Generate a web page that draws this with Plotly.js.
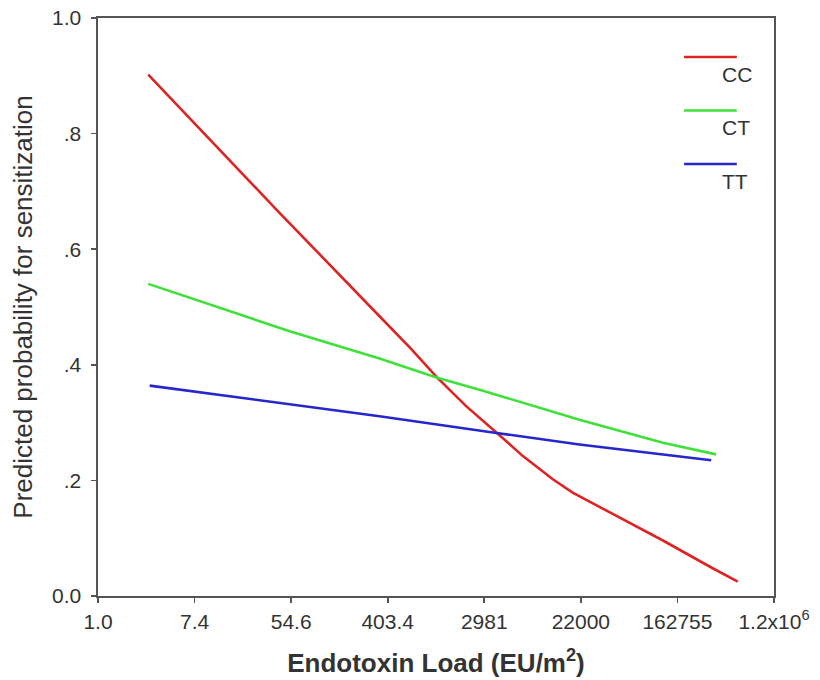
<!DOCTYPE html>
<html>
<head>
<meta charset="utf-8">
<script src="https://cdn.plot.ly/plotly-3.0.1.min.js"></script>
<style>html,body{margin:0;padding:0;background:#fff;}#chart{width:820px;height:680px;}</style>
</head>
<body>
<div id="chart"></div>
<script>
// x values are ln(Endotoxin load, EU/m2)
const ccLnLoad = [1.04, 3.69, 5.83, 6.49, 7.01, 7.63, 8.25, 8.80, 9.42, 9.83, 10.66, 11.70, 12.73, 13.25];
const ccProb   = [0.902, 0.669, 0.484, 0.427, 0.379, 0.328, 0.283, 0.242, 0.202, 0.179, 0.142, 0.096, 0.048, 0.025];
const ctLnLoad = [1.04, 3.97, 5.83, 6.83, 7.01, 7.90, 9.97, 11.70, 12.80];
const ctProb   = [0.540, 0.458, 0.411, 0.383, 0.378, 0.357, 0.305, 0.265, 0.245];
const ttLnLoad = [1.07, 5.83, 8.18, 9.97, 12.70];
const ttProb   = [0.364, 0.311, 0.283, 0.262, 0.235];
const seriesNames = ['CC', 'CT', 'TT'];
const seriesColors = ['#dd2424', '#3fe03a', '#2626cc'];
const xTickVals = [0, 2, 4, 6, 8, 10, 12, 14];
const xTickText = ['1.0', '7.4', '54.6', '403.4', '2981', '22000', '162755', '1.2x10<sup>6</sup>'];
const yTickVals = [0, 0.2, 0.4, 0.6, 0.8, 1.0];
const yTickText = ['0.0', '.2', '.4', '.6', '.8', '1.0'];

const xs = [ccLnLoad, ctLnLoad, ttLnLoad];
const ys = [ccProb, ctProb, ttProb];
const traces = seriesNames.map((n, i) => ({
  x: xs[i], y: ys[i], name: n, type: 'scatter', mode: 'lines',
  line: {color: seriesColors[i], width: 2.6}
}));

const font = 'Liberation Sans, Arial, sans-serif';
const shapes = [], annotations = [];
seriesNames.forEach((n, i) => {
  const yl = 0.9325 - i * 0.0925;
  shapes.push({type: 'line', xref: 'paper', yref: 'paper', x0: 0.867, x1: 0.945, y0: yl, y1: yl,
    line: {color: seriesColors[i], width: 2.6}});
  annotations.push({xref: 'paper', yref: 'paper', x: 0.92, y: yl - 0.03, text: n, showarrow: false,
    xanchor: 'left', yanchor: 'middle', font: {family: font, size: 21, color: '#333'}});
});

const layout = {
  width: 820, height: 680,
  margin: {l: 98, r: 46, t: 18, b: 84},
  paper_bgcolor: '#fff', plot_bgcolor: '#fff',
  showlegend: false,
  font: {family: font, color: '#333'},
  xaxis: {
    range: [0, 14], tickvals: xTickVals, ticktext: xTickText,
    showgrid: false, zeroline: false, showline: true, mirror: true,
    linecolor: '#555', linewidth: 1.6, ticks: 'outside', ticklen: 5, tickwidth: 1.6, tickcolor: '#555',
    ticklabelstandoff: 1,
    tickfont: {family: font, size: 21, color: '#333'},
    title: {text: '<b>Endotoxin Load (EU/m<sup>2</sup>)</b>', font: {family: font, size: 26, color: '#333'}, standoff: 22}
  },
  yaxis: {
    range: [0, 1], tickvals: yTickVals, ticktext: yTickText,
    showgrid: false, zeroline: false, showline: true, mirror: true,
    linecolor: '#555', linewidth: 1.6, ticks: 'outside', ticklen: 5, tickwidth: 1.6, tickcolor: '#555',
    ticklabelstandoff: 6,
    tickfont: {family: font, size: 21, color: '#333'},
    title: {text: 'Predicted probability for sensitization', font: {family: font, size: 26, color: '#333'}, standoff: 12}
  },
  shapes: shapes,
  annotations: annotations
};
Plotly.newPlot('chart', traces, layout, {displayModeBar: false, staticPlot: true});
</script>
</body>
</html>
